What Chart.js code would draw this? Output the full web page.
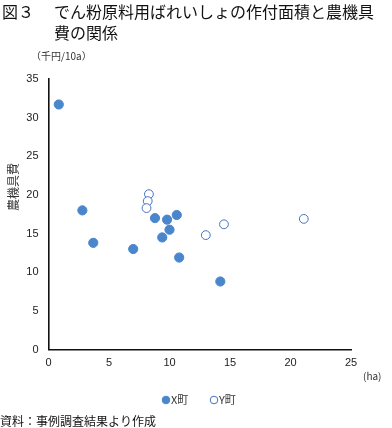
<!DOCTYPE html>
<html>
<head>
<meta charset="utf-8">
<script src="https://cdn.jsdelivr.net/npm/chart.js@4"></script>
<style>
  html, body { margin: 0; padding: 0; background: #fff; }
  #wrap { width: 392px; height: 428px; }
</style>
</head>
<body>
<div id="wrap"><canvas id="chart" width="392" height="428"></canvas></div>
<script>
// 作付面積 (ha) と 農機具費 (千円/10a)
const xTownArea = [0.85, 2.8, 3.7, 7.0, 8.8, 9.8, 10.6, 10.0, 9.4, 10.8, 14.2]
const xTownCost = [31.7, 18.0, 13.8, 13.0, 17.0, 16.8, 17.4, 15.5, 14.5, 11.9, 8.8]
const yTownArea = [8.3, 8.2, 8.1, 13.0, 14.5, 21.1]
const yTownCost = [20.1, 19.2, 18.3, 14.8, 16.2, 16.9]

const seriesNames = ['X町', 'Y町']
const titleLines = ['でん粉原料用ばれいしょの作付面積と農機具', '費の関係']
const figLabel = '図３'
const yUnit = '（千円/10a）'
const xUnit = '(ha)'
const yTitle = '農機具費'
const sourceNote = '資料：事例調査結果より作成'

const jp = '"Noto Sans CJK JP", sans-serif'
const blue = '#4a86cc'

const toPoints = (xs, ys) => xs.map((x, i) => ({ x: x, y: ys[i] }))

const textPlugin = {
    id: 'texts',
    afterDraw(chart) {
        const c = chart.ctx
        c.save()
        c.fillStyle = '#111'
        c.textBaseline = 'middle'
        c.textAlign = 'left'
        c.font = '16px ' + jp
        c.fillText(figLabel, 2, 12)
        c.fillText(titleLines[0], 54, 12)
        c.fillText(titleLines[1], 54, 33)

        c.font = '10px ' + jp
        c.fillStyle = '#333'
        c.fillText(yUnit, 31, 56)
        c.fillText(xUnit, 363, 376)

        c.save()
        c.translate(13, 187)
        c.rotate(-Math.PI / 2)
        c.textAlign = 'center'
        c.font = '12px ' + jp
        c.fillText(yTitle, 0, 0)
        c.restore()

        // legend
        const ds = chart.data.datasets
        const items = [{ x: 166, ds: ds[0] }, { x: 214, ds: ds[1] }]
        c.font = '11px ' + jp
        items.forEach(it => {
            c.beginPath()
            c.arc(it.x, 400, 3.8, 0, Math.PI * 2)
            c.fillStyle = it.ds.backgroundColor
            c.fill()
            c.lineWidth = 1
            c.strokeStyle = it.ds.borderColor
            c.stroke()
            c.fillStyle = '#333'
            c.fillText(it.ds.label, it.x + 5, 400)
        })

        c.font = '12px ' + jp
        c.fillStyle = '#111'
        c.fillText(sourceNote, 0, 421)
        c.restore()
    }
}

new Chart(document.getElementById('chart'), {
    type: 'scatter',
    data: {
        datasets: [{
            label: seriesNames[0],
            data: toPoints(xTownArea, xTownCost),
            backgroundColor: blue,
            borderColor: blue,
            borderWidth: 1,
            pointRadius: 4.6
        }, {
            label: seriesNames[1],
            data: toPoints(yTownArea, yTownCost),
            backgroundColor: '#ffffff',
            borderColor: '#4472c4',
            borderWidth: 1,
            pointRadius: 4.4
        }]
    },
    options: {
        responsive: false,
        animation: false,
        layout: { padding: { top: 79, right: 41, left: 0, bottom: 0 } },
        plugins: {
            legend: { display: false },
            title: { display: false },
            tooltip: { enabled: false }
        },
        scales: {
            x: {
                type: 'linear',
                min: 0,
                max: 25,
                afterFit(scale) { scale.height = 78.5 },
                grid: { display: false, drawTicks: false },
                border: { color: '#111', width: 1.6 },
                ticks: { stepSize: 5, padding: 7, color: '#222', font: { family: 'Liberation Sans', size: 11 } }
            },
            y: {
                min: 0,
                max: 35,
                afterFit(scale) { scale.width = 48.5 },
                grid: { display: false, drawTicks: false },
                border: { color: '#111', width: 1.6 },
                ticks: { stepSize: 5, padding: 10, color: '#222', font: { family: 'Liberation Sans', size: 11 } }
            }
        }
    },
    plugins: [textPlugin]
})
</script>
</body>
</html>
